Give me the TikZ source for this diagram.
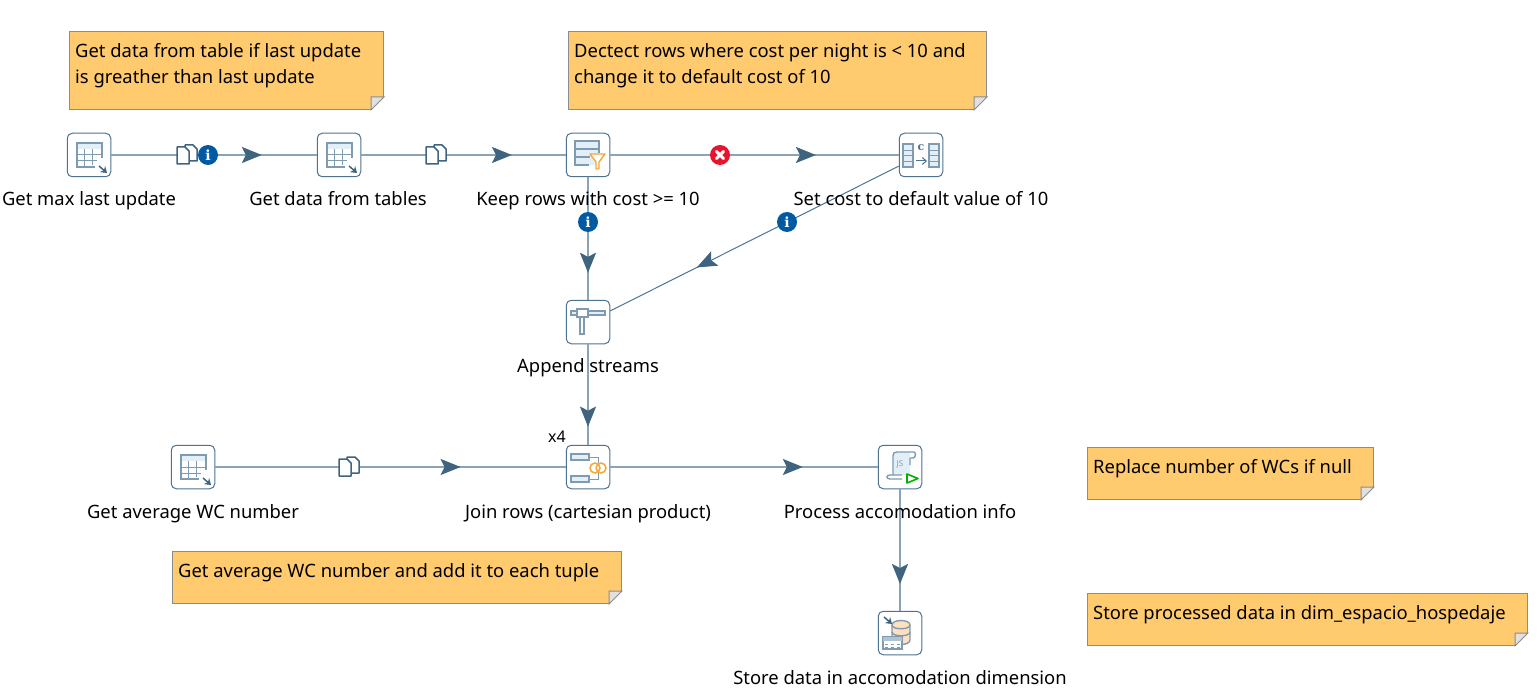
\documentclass[tikz,border=0pt]{standalone}
\usepackage{fontspec}
\setmainfont{Noto Sans}
\newfontfamily\markfont{DejaVu Serif}
\usetikzlibrary{arrows.meta,decorations.markings}
\definecolor{hopline}{HTML}{8AA3B5}
\definecolor{hoptip}{HTML}{3F6480}
\definecolor{iconline}{HTML}{4E7390}
\definecolor{iconfaint}{HTML}{7F9BB0}
\definecolor{iconsoft}{HTML}{E3EFF8}
\definecolor{noteback}{HTML}{FFCB6E}
\definecolor{noteedge}{HTML}{8C8C8C}
\definecolor{filterorange}{HTML}{F7A733}
\definecolor{infoblue}{HTML}{0059A3}
\definecolor{errorred}{HTML}{E8132D}
\tikzset{
  stepbox/.style={draw=iconline,fill=white,rounded corners=5pt,line width=1pt,minimum size=43.5pt,inner sep=0pt},
  steplabel/.style={font=\fontsize{18.4}{22}\selectfont,inner sep=0pt,anchor=base},
  notebox/.style={draw=noteedge,fill=noteback,line width=1pt,inner sep=0pt,anchor=north west},
  notetext/.style={font=\fontsize{18.4}{26}\selectfont,align=left,inner sep=0pt,anchor=north west,xshift=6pt,yshift=-12pt},
  hop/.style={draw=hopline,line width=2pt,postaction={decorate},decoration={markings,mark=at position #1 with {\arrow[hoptip]{Stealth[length=20pt,width=16pt,inset=4pt]}}}},
  thinhop/.style={hop=#1,draw=iconline,line width=1pt},
  infomark/.style={circle,fill=#1,text=white,inner sep=0pt,minimum size=20pt,font=\markfont\bfseries\fontsize{14}{14}\selectfont},
  icon/.style={draw=iconfaint,line width=1.4pt},
  darkicon/.style={draw=hoptip,line width=1.5pt},
  pics/tablein/.style={code={
    \fill[iconsoft] (-12,-12) rectangle (13,-6);
    \draw[iconfaint,line width=1pt] (-5,-6) -- (-5,12) (3,-6) -- (3,10) (-12,0) -- (13,0) (-12,6) -- (8,6);
    \draw[icon] (13,3) -- (13,-12) -- (-12,-12) -- (-12,12) -- (6,12);
    \draw[darkicon,-{Stealth[length=6pt,width=8pt]}] (10,11) -- (18,18);
  }},
  pics/rowfilter/.style={code={
    \fill[iconsoft] (-13,-14) rectangle (11,10);
    \draw[icon] (11,-2) -- (11,-14) -- (-13,-14) -- (-13,10) -- (1,10);
    \draw[icon] (-13,-6) -- (11,-6) (-13,2) -- (2,2);
    \draw[filterorange,fill=white,line width=1.4pt,line join=round] (2,-1) -- (17,-1) -- (11,7) -- (11,14) -- (8,14) -- (8,7) -- cycle;
  }},
  pics/setvalue/.style={code={
    \fill[iconsoft] (-18,-11) rectangle (-8,12) (8,-11) rectangle (18,12);
    \draw[icon] (-18,-11) rectangle (-8,12) (8,-11) rectangle (18,12);
    \draw[iconfaint,line width=.8pt] (-18,-5) -- (-8,-5) (-18,0) -- (-8,0) (-18,6) -- (-8,6) (8,-5) -- (18,-5) (8,0) -- (18,0) (8,6) -- (18,6);
    \node[inner sep=0pt,text=iconline,font=\markfont\bfseries\fontsize{11}{11}\selectfont] (cmark) at (0,-7) {c};
    \draw[iconline,line width=1pt,-{Straight Barb[length=4pt,width=7pt]}] (-5,6) -- (6,6);
  }},
  pics/appendbar/.style={code={
    \draw[icon,fill=iconsoft] (-17,-11) rectangle (17,-7);
    \draw[icon,fill=white] (-8,-5) rectangle (-4,12);
    \draw[icon,fill=white] (-11,-13) rectangle (0,-5);
  }},
  pics/joinrows/.style={code={
    \draw[iconfaint,line width=.8pt] (1,-10) -- (10,-10) -- (10,-4) (1,12) -- (10,12) -- (10,6);
    \draw[icon,fill=iconsoft] (-17,-13) rectangle (1,-7) (-17,9) rectangle (1,15);
    \draw[filterorange,line width=1.5pt] (7,1) circle (5pt) (13,1) circle (5pt);
  }},
  pics/scriptrun/.style={code={
    \fill[iconsoft] (-7,-15) -- (10,-15) -- (10,8) -- (-7,8) -- cycle;
    \draw[icon,line join=round] (-7,8) -- (-7,-11) .. controls (-7,-14) and (-6,-15) .. (-3,-15) -- (14,-15) .. controls (16,-15) and (16,-9) .. (13,-9) -- (10,-9) -- (10,-2);
    \draw[icon] (2,8) -- (-10,8) .. controls (-14,8) and (-14,12) .. (-10,12) -- (2,12);
    \node[inner sep=0pt,text=iconfaint,font=\bfseries\fontsize{8}{8}\selectfont] (jsmark) at (0,-3) {JS};
    \draw[green!70!black,line width=1.6pt,line join=round,fill=white] (7,7) -- (18,11.5) -- (7,16) -- cycle;
  }},
  pics/storedb/.style={code={
    \draw[icon,fill=orange!25] (-8,-8) -- (-8,7) .. controls (-8,13) and (10,13) .. (10,7) -- (10,-8) .. controls (10,-14) and (-8,-14) .. (-8,-8) -- cycle;
    \draw[icon] (-8,-8) .. controls (-8,-3) and (10,-3) .. (10,-8) (-8,-1) .. controls (-8,4) and (10,4) .. (10,-1);
    \draw[icon,fill=white] (-17,4) rectangle (2,16);
    \fill[iconfaint!60] (-17,4) rectangle (2,8);
    \draw[iconfaint,line width=.8pt,dashed] (-15,11) -- (1,11) (-15,14) -- (1,14);
    \draw[darkicon,-{Stealth[length=6pt,width=8pt]}] (-16,-16) -- (-8,-9);
  }},
  pics/copyrows/.style={code={
    \draw[darkicon,fill=white,line join=round] (-2,-10) -- (6,-10) -- (10,-6) -- (10,6) -- (-2,6) -- cycle;
    \draw[darkicon,fill=white,line join=round] (-10,-8) -- (-2,-8) -- (2,-4) -- (2,9) -- (-10,9) -- cycle;
  }},
}
\begin{document}
\begin{tikzpicture}[x=1pt,y=-1pt]
\useasboundingbox (0,0) rectangle (1537,695);
% notes
\node (noteupdate) [notebox,minimum width=314pt,minimum height=78pt] at (69,31) {};
\node (notecost) [notebox,minimum width=418pt,minimum height=78pt] at (568,31) {};
\node (notewc) [notebox,minimum width=286pt,minimum height=52pt] at (1087,447) {};
\node (noteavg) [notebox,minimum width=449pt,minimum height=52pt] at (172,551) {};
\node (notestore) [notebox,minimum width=440pt,minimum height=52pt] at (1087,593) {};
\foreach \n in {noteupdate,notecost,notewc,noteavg,notestore} {
  \fill[white] ([xshift=-13pt]\n.south east) -- ([xshift=1pt,yshift=-1pt]\n.south east) -- ([yshift=13pt]\n.south east) -- cycle;
  \draw[noteedge,fill=black!12,line width=1pt] ([xshift=-13pt]\n.south east) -- ([xshift=-13pt,yshift=13pt]\n.south east) -- ([yshift=13pt]\n.south east) -- cycle;
}
\node[notetext] (textupdate) at (noteupdate.north west) {Get data from table if last update\\is greather than last update};
\node[notetext] (textcost) at (notecost.north west) {Dectect rows where cost per night is < 10 and\\change it to default cost of 10};
\node[notetext] (textwc) at (notewc.north west) {Replace number of WCs if null};
\node[notetext] (textavg) at (noteavg.north west) {Get average WC number and add it to each tuple};
\node[notetext] (textstore) at (notestore.north west) {Store processed data in dim\_espacio\_hospedaje};
% steps
\node (maxupdate) [stepbox] at (89,155) {};
\node (gettables) [stepbox] at (339,155) {};
\node (keeprows) [stepbox] at (588,155) {};
\node (setcost) [stepbox] at (921,155) {};
\node (appendrows) [stepbox] at (588,322) {};
\node (avgwc) [stepbox] at (193,467) {};
\node (joinrows) [stepbox] at (588,467) {};
\node (processinfo) [stepbox] at (900,467) {};
\node (storedim) [stepbox] at (900,633) {};
\pic at (maxupdate) {tablein};
\pic at (gettables) {tablein};
\pic at (keeprows) {rowfilter};
\pic at (setcost) {setvalue};
\pic at (appendrows) {appendbar};
\pic at (avgwc) {tablein};
\pic at (joinrows) {joinrows};
\pic at (processinfo) {scriptrun};
\pic at (storedim) {storedb};
% hops
\draw[hop=0.733] (maxupdate) -- (gettables);
\draw[hop=0.737] (gettables) -- (keeprows);
\draw[hop=0.713] (keeprows) -- (setcost);
\draw[hop=0.78] (keeprows) -- (appendrows);
\draw[thinhop=0.70] (setcost) -- (appendrows);
\draw[hop=0.82] (appendrows) -- (joinrows);
\draw[hop=0.70] (avgwc) -- (joinrows);
\draw[hop=0.72] (joinrows) -- (processinfo);
\draw[hop=0.78] (processinfo) -- (storedim);
% hop marks
\pic at (187,155) {copyrows};
\pic at (436,155) {copyrows};
\pic at (349,467) {copyrows};
\node (infofirst) [infomark=infoblue] at (208,155) {i};
\node (infokeep) [infomark=infoblue] at (588,222) {i};
\node (infoset) [infomark=infoblue] at (787,222) {i};
\node (errorkeep) [infomark=errorred] at (720,155) {};
\draw[white,line width=3pt,line cap=round] ([xshift=-3.5pt,yshift=-3.5pt]errorkeep.center) -- ([xshift=3.5pt,yshift=3.5pt]errorkeep.center) ([xshift=-3.5pt,yshift=3.5pt]errorkeep.center) -- ([xshift=3.5pt,yshift=-3.5pt]errorkeep.center);
% labels
\node[steplabel] (labelmax) at (89,206) {Get max last update};
\node[steplabel] (labeltables) at (338,206) {Get data from tables};
\node[steplabel] (labelkeep) at (588,206) {Keep rows with cost >= 10};
\node[steplabel] (labelset) at (921,206) {Set cost to default value of 10};
\node[steplabel] (labelappend) at (588,372) {Append streams};
\node[steplabel] (labelavg) at (193,518) {Get average WC number};
\node[steplabel] (labeljoin) at (588,518) {Join rows (cartesian product)};
\node[steplabel] (labelprocess) at (900,518) {Process accomodation info};
\node[steplabel] (labelstore) at (900,684) {Store data in accomodation dimension};
\node[steplabel,font=\fontsize{16}{20}\selectfont] (labelcopies) at (557,442) {x4};
\end{tikzpicture}
\end{document}
